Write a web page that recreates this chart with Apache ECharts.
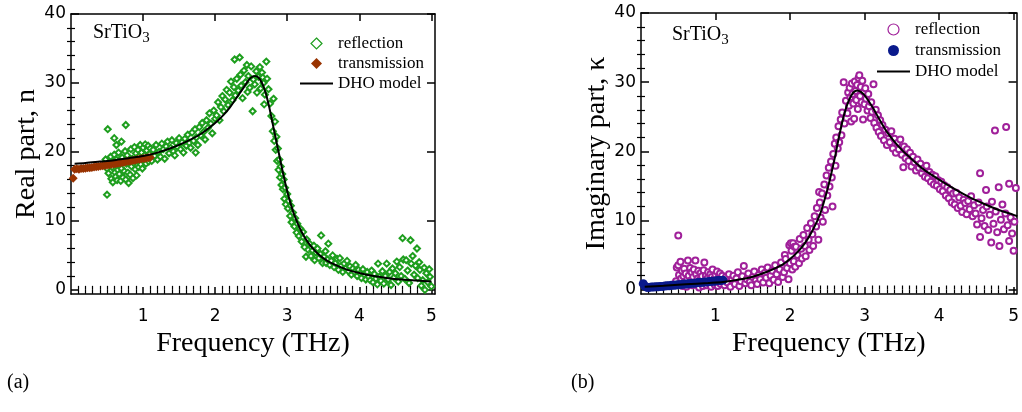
<!DOCTYPE html>
<html>
<head>
<meta charset="utf-8">
<script src="https://cdn.jsdelivr.net/npm/echarts@6/dist/echarts.min.js"></script>
<style>
html,body{margin:0;padding:0;background:#fff;}
#chart{width:1022px;height:412px;}
</style>
</head>
<body>
<div id="chart"></div>
<script>
// ---------------- data ----------------
const xTickLabels = [1, 2, 3, 4, 5];
const yTickLabels = [0, 10, 20, 30, 40];

// panel (a): real part n
const reflectionN = [
[0.50,13.8],[0.51,23.3],[0.60,22.0],[0.63,21.0],[0.70,21.5],[0.76,23.9],
[0.48,18.9],[0.50,17.6],[0.52,16.9],[0.53,18.2],[0.55,19.3],[0.56,16.1],[0.57,17.8],[0.58,15.6],[0.59,18.5],[0.60,19.6],[0.61,17.0],[0.62,16.4],[0.63,18.9],[0.64,15.9],[0.65,17.4],[0.66,19.9],[0.67,16.8],[0.68,18.1],[0.69,15.8],[0.70,17.6],[0.71,19.2],[0.72,16.3],[0.73,18.6],[0.74,17.2],[0.75,20.1],[0.76,16.0],[0.77,18.3],[0.78,19.5],[0.79,17.0],[0.80,15.5],[0.81,18.8],[0.82,16.7],[0.83,20.4],[0.84,17.9],[0.85,19.0],[0.86,16.2],[0.87,18.4],[0.88,20.7],[0.89,17.5],[0.90,19.8],[0.91,16.6],[0.92,18.9],[0.93,20.3],[0.94,17.8],[0.95,19.4],[0.96,21.0],[0.97,18.2],[0.98,19.9],[0.99,17.6],[1.00,20.6],[1.01,18.8],[1.02,19.5],[1.03,21.1],[1.04,18.3],[1.05,20.2],[1.06,19.0],[1.07,20.9],[1.08,18.6],[1.09,19.7],[1.10,20.5],
[1.12,18.7],[1.14,20.3],[1.16,19.4],[1.18,21.0],[1.20,18.9],[1.22,20.0],[1.24,19.3],[1.26,21.2],[1.28,20.4],[1.30,19.0],[1.32,20.8],[1.34,21.5],[1.36,19.8],[1.38,20.6],[1.40,21.7],[1.42,20.1],[1.44,19.5],[1.46,21.3],[1.48,20.7],[1.50,22.0],[1.52,20.4],[1.54,21.4],[1.56,19.9],[1.58,21.9],[1.60,20.9],[1.62,22.5],[1.64,21.3],[1.66,20.6],[1.68,22.8],[1.70,21.6],[1.72,23.3],[1.73,19.9],[1.74,22.1],[1.76,21.0],[1.78,23.6],[1.80,22.4],[1.82,24.2],[1.84,22.9],[1.86,21.8],[1.88,24.6],[1.90,23.5],[1.92,25.6],[1.94,24.1],[1.96,22.7],[1.98,26.0],[2.00,24.8],
[2.02,25.3],[2.04,27.2],[2.06,24.6],[2.08,26.5],[2.10,28.1],[2.12,25.9],[2.14,27.6],[2.16,29.0],[2.18,26.8],[2.20,28.6],[2.22,30.2],[2.24,27.5],[2.26,29.4],[2.27,33.4],[2.28,28.2],[2.30,30.6],[2.32,28.9],[2.34,33.7],[2.35,31.2],[2.36,29.6],[2.38,27.8],[2.40,31.8],[2.42,30.1],[2.44,32.6],[2.45,28.7],[2.46,31.0],[2.48,29.3],[2.50,32.4],[2.52,25.9],[2.53,30.5],[2.55,29.8],[2.57,31.7],[2.58,28.6],[2.60,30.9],[2.62,32.3],[2.63,29.2],[2.65,31.5],[2.66,30.8],[2.67,30.0],[2.68,26.9],[2.69,28.3],[2.71,33.1],[2.72,30.6],[2.74,29.1],
[2.76,27.0],[2.78,25.2],[2.80,23.0],[2.81,27.7],[2.82,21.6],[2.83,24.4],[2.84,20.3],[2.85,22.2],[2.86,18.7],[2.87,20.5],[2.88,17.4],[2.89,18.9],[2.90,16.3],[2.91,17.9],[2.92,15.2],[2.93,16.8],[2.94,14.6],[2.95,16.0],[2.96,13.2],[2.97,14.8],[2.98,12.4],[3.00,13.9],[3.01,11.8],[3.02,12.9],[3.04,10.7],[3.05,12.2],[3.06,9.8],[3.08,11.2],[3.10,9.2],[3.11,10.4],[3.13,8.3],[3.14,9.6],[3.16,7.8],[3.18,8.9],[3.20,7.0],[3.22,8.4],[3.24,6.2],[3.26,4.8],[3.27,7.3],[3.29,5.8],
[3.31,6.7],[3.33,4.9],[3.35,5.7],[3.37,6.4],[3.38,4.3],[3.40,5.4],[3.42,6.0],[3.44,4.6],[3.46,5.2],[3.47,7.9],[3.49,3.9],[3.51,4.8],[3.53,5.6],[3.54,3.9],[3.56,4.4],[3.57,6.7],[3.59,3.6],[3.61,4.2],[3.63,5.0],[3.65,3.3],[3.67,3.9],[3.69,4.5],[3.71,2.9],[3.73,4.6],[3.75,3.5],[3.77,2.6],[3.79,3.8],[3.81,3.1],[3.83,4.2],[3.85,2.7],[3.87,3.4],[3.89,2.2],[3.91,3.1],[3.93,2.6],[3.95,3.6],[3.97,2.0],[3.99,2.9],[4.01,2.4],[4.03,1.7],[4.05,3.0],[4.07,2.2],[4.09,1.5],[4.11,2.6],[4.13,1.9],[4.15,1.4],[4.17,2.8],[4.19,1.1],[4.21,2.3],[4.23,1.6],[4.25,0.8],[4.26,3.8],[4.28,1.9],[4.30,1.3],[4.32,2.7],[4.34,0.9],[4.36,2.0],[4.38,3.8],[4.40,1.5],[4.42,2.6],[4.44,0.7],[4.46,3.1],[4.48,1.8],[4.50,2.4],[4.52,4.1],[4.54,1.2],[4.56,3.3],[4.58,2.0],[4.60,7.5],[4.61,4.4],[4.63,1.6],[4.65,4.3],[4.67,2.8],[4.69,1.0],[4.71,7.2],[4.72,3.8],[4.74,4.9],[4.76,2.2],[4.78,3.5],[4.80,6.0],[4.81,1.7],[4.83,4.0],[4.84,2.9],[4.86,0.6],[4.88,1.4],[4.90,3.2],[4.91,0.0],[4.93,2.4],[4.95,1.1],[4.97,3.0],[4.98,1.9],[5.00,0.5]
];
const transmissionN = [
[0.03,16.2],[0.05,17.5],[0.08,17.55],[0.11,17.5],[0.14,17.6],[0.17,17.6],[0.20,17.65],[0.23,17.7],[0.26,17.7],[0.29,17.75],[0.32,17.8],[0.35,17.85],[0.38,17.9],[0.41,17.95],[0.44,18.0],[0.47,18.05],[0.50,18.1],[0.53,18.15],[0.56,18.2],[0.59,18.25],[0.62,18.3],[0.65,18.35],[0.68,18.4],[0.71,18.45],[0.74,18.5],[0.77,18.6],[0.80,18.65],[0.83,18.7],[0.86,18.75],[0.89,18.8],[0.92,18.9],[0.95,18.95],[0.98,19.0],[1.01,19.05],[1.04,19.1],[1.07,19.15],[1.10,19.2]
];
const dhoN = [
[0.05,18.3],[0.2,18.4],[0.4,18.6],[0.6,18.8],[0.8,19.1],[1.0,19.4],[1.2,19.9],[1.4,20.6],[1.6,21.5],[1.8,22.6],[2.0,24.2],[2.1,25.2],[2.2,26.4],[2.3,27.9],[2.4,29.4],[2.45,30.2],[2.5,30.8],[2.55,31.0],[2.6,30.8],[2.65,30.0],[2.7,28.6],[2.75,26.5],[2.8,24.0],[2.85,21.5],[2.9,19.0],[2.95,16.5],[3.0,14.3],[3.05,12.4],[3.1,10.8],[3.2,8.4],[3.3,6.7],[3.4,5.5],[3.5,4.6],[3.6,3.95],[3.8,3.05],[4.0,2.45],[4.2,2.0],[4.4,1.7],[4.6,1.5],[4.8,1.35],[5.0,1.2]
];

// panel (b): imaginary part kappa
const reflectionK = [
[0.47,1.2],[0.48,3.2],[0.50,3.5],[0.50,7.8],[0.51,2.1],[0.52,0.8],[0.53,4.0],[0.54,1.6],[0.55,2.7],[0.56,0.5],[0.57,1.9],[0.58,3.0],[0.59,1.1],[0.60,2.3],[0.61,0.4],[0.62,1.5],[0.63,4.2],[0.64,2.0],[0.65,0.9],[0.66,3.1],[0.67,1.3],[0.68,2.5],[0.69,0.6],[0.70,1.8],[0.71,2.9],[0.72,1.0],[0.73,4.2],[0.74,2.2],[0.75,0.7],[0.76,1.6],[0.77,2.7],[0.78,0.3],[0.79,1.4],[0.80,2.4],[0.81,0.9],[0.82,1.9],[0.83,0.5],[0.84,2.8],[0.85,3.9],[0.86,1.2],[0.87,2.0],[0.88,0.6],[0.89,1.6],[0.90,2.5],[0.91,0.9],[0.92,1.3],[0.93,2.2],[0.94,0.4],[0.95,1.8],[0.96,2.9],[0.97,1.0],[0.98,1.5],[0.99,0.7],[1.00,2.1],[1.01,1.2],[1.02,2.6],[1.03,0.5],[1.04,1.7],[1.05,1.0],[1.06,2.3],[1.07,0.8],[1.08,1.5],[1.09,2.0],[1.10,1.1],
[1.12,0.6],[1.14,1.8],[1.16,1.0],[1.18,2.2],[1.20,0.4],[1.22,1.4],[1.24,2.0],[1.26,0.8],[1.28,1.6],[1.30,2.5],[1.32,0.5],[1.34,1.2],[1.36,1.9],[1.38,3.4],[1.40,0.9],[1.42,1.5],[1.44,2.3],[1.46,1.1],[1.48,0.6],[1.50,1.8],[1.52,2.6],[1.54,1.3],[1.56,0.8],[1.58,2.1],[1.60,1.5],[1.62,2.9],[1.64,1.0],[1.66,2.4],[1.68,1.7],[1.70,3.2],[1.72,0.9],[1.74,2.0],[1.76,2.7],[1.78,1.4],[1.80,3.5],[1.82,2.2],[1.84,1.1],[1.86,2.9],[1.88,3.9],[1.90,1.8],[1.92,2.5],[1.93,5.0],[1.94,4.4],[1.96,3.1],[1.98,1.5],[1.99,6.4],[2.00,3.8],[2.01,6.7],
[2.02,5.6],[2.03,2.9],[2.04,6.7],[2.05,4.1],[2.06,6.2],[2.07,3.3],[2.08,6.2],[2.10,5.0],[2.12,3.8],[2.13,7.3],[2.15,5.9],[2.16,4.5],[2.18,7.9],[2.20,6.3],[2.21,4.8],[2.23,8.9],[2.25,7.2],[2.26,5.7],[2.28,9.6],[2.30,8.0],[2.31,6.3],[2.33,10.6],[2.35,9.1],[2.36,11.8],[2.38,7.2],[2.39,14.1],[2.40,12.6],[2.41,10.4],[2.43,13.9],[2.44,9.8],[2.46,15.2],[2.47,11.5],[2.49,16.5],[2.50,13.6],[2.52,17.6],[2.53,14.9],[2.55,18.5],[2.56,16.2],[2.57,12.0],[2.58,19.6],[2.60,21.1],[2.61,17.9],[2.62,22.0],[2.64,20.4],[2.65,23.6],[2.66,21.3],[2.68,24.6],[2.69,22.3],[2.70,25.6],[2.72,30.0],[2.73,24.0],[2.75,27.3],[2.77,25.5],
[2.78,28.5],[2.79,26.6],[2.80,29.2],[2.81,27.8],[2.82,24.3],[2.83,29.8],[2.84,28.3],[2.85,26.9],[2.86,24.7],[2.87,30.1],[2.88,28.7],[2.89,27.4],[2.90,29.6],[2.91,26.1],[2.92,30.6],[2.93,31.0],[2.94,28.0],[2.95,29.3],[2.96,27.1],[2.97,30.2],[2.98,24.6],[2.99,28.6],[3.00,26.8],[3.01,29.1],[3.02,27.6],[3.04,25.9],[3.05,28.3],[3.06,26.5],[3.08,24.8],[3.09,27.1],[3.10,25.7],[3.12,29.7],[3.13,24.1],[3.15,26.0],[3.16,23.4],[3.18,25.2],[3.19,22.8],[3.21,24.5],
[3.22,22.2],[3.24,23.8],[3.26,21.6],[3.28,23.1],[3.30,20.9],[3.32,22.6],[3.34,21.3],[3.36,22.9],[3.38,20.4],[3.40,21.8],[3.42,19.8],[3.44,21.2],[3.46,20.3],[3.48,21.7],[3.50,19.5],[3.52,17.7],[3.53,20.7],[3.55,19.0],[3.57,20.3],[3.59,18.6],[3.61,19.8],[3.63,17.8],[3.65,19.2],[3.67,18.4],[3.69,17.2],[3.71,18.8],[3.73,17.6],[3.75,18.2],[3.77,16.8],[3.79,17.5],[3.81,16.3],[3.83,17.9],[3.85,16.1],[3.87,17.0],[3.89,15.6],[3.91,16.6],[3.93,15.2],[3.95,16.4],[3.97,15.0],[3.99,15.8],[4.01,14.5],[4.03,15.6],[4.05,14.2],[4.07,15.1],[4.09,13.6],[4.11,14.8],[4.13,13.2],[4.15,14.4],[4.17,12.6],[4.19,13.9],[4.21,12.3],[4.23,14.0],[4.25,11.8],[4.27,13.3],[4.29,12.1],[4.31,11.2],[4.33,13.0],[4.35,12.5],[4.37,10.9],[4.39,12.8],[4.41,11.6],[4.43,13.5],[4.45,10.6],[4.47,12.2],[4.49,11.0],[4.51,9.4],[4.53,12.6],[4.55,16.8],[4.55,7.6],[4.57,10.3],[4.59,11.5],[4.61,9.2],[4.63,14.4],[4.64,12.0],[4.66,8.6],[4.68,10.8],[4.70,6.8],[4.71,12.7],[4.73,9.5],[4.75,23.0],[4.76,11.3],[4.78,8.3],[4.80,14.8],[4.81,6.3],[4.83,10.1],[4.85,12.3],[4.87,8.7],[4.89,11.0],[4.90,23.5],[4.92,9.3],[4.94,15.3],[4.94,7.0],[4.96,10.4],[4.98,8.1],[5.00,5.6],[5.01,9.8],[5.03,14.7]
];
const transmissionK = [
[0.03,0.85],[0.05,0.5],[0.08,0.3],[0.11,0.3],[0.14,0.35],[0.17,0.35],[0.20,0.4],[0.23,0.4],[0.26,0.45],[0.29,0.45],[0.32,0.5],[0.35,0.55],[0.38,0.55],[0.41,0.6],[0.44,0.6],[0.47,0.65],[0.50,0.7],[0.53,0.7],[0.56,0.75],[0.59,0.8],[0.62,0.8],[0.65,0.85],[0.68,0.9],[0.71,0.9],[0.74,0.95],[0.77,1.0],[0.80,1.0],[0.83,1.05],[0.86,1.1],[0.89,1.1],[0.92,1.15],[0.95,1.2],[0.98,1.2],[1.01,1.25],[1.04,1.3],[1.07,1.3],[1.10,1.35]
];
const dhoK = [
[0.05,0.4],[0.3,0.55],[0.6,0.75],[0.9,0.95],[1.1,1.1],[1.3,1.4],[1.5,1.85],[1.7,2.6],[1.9,3.6],[2.0,4.4],[2.1,5.4],[2.2,6.7],[2.3,8.5],[2.4,10.8],[2.45,12.5],[2.5,14.4],[2.55,16.6],[2.6,19.0],[2.65,21.7],[2.7,24.2],[2.75,26.2],[2.8,27.6],[2.85,28.5],[2.9,28.8],[2.95,28.6],[3.0,28.1],[3.1,26.5],[3.2,24.6],[3.3,22.8],[3.4,21.4],[3.5,20.2],[3.6,19.2],[3.7,18.2],[3.8,17.3],[4.0,15.9],[4.2,14.6],[4.4,13.4],[4.6,12.4],[4.8,11.5],[5.0,10.8],[5.05,10.6]
];

// ---------------- styling helpers ----------------
const BLACK = '#000';
const GREEN = '#1e9e1e', BROWN = '#993300', MAGENTA = '#a0209a', NAVY = '#0a1a8c';
const tickFont = 'DejaVu Sans';
const serif = 'Liberation Serif';
const xMinor = [], yMinor = [];
for (let i = 1; i <= 50; i++) if (i % 10) xMinor.push(i / 10);
for (let i = 2; i < 40; i += 2) if (i % 10) yMinor.push(i);

function xAxesFor(g, max) {
  const base = {type: 'value', gridIndex: g, min: 0, max: max, splitLine: {show: false}};
  const line = {show: true, onZero: false, lineStyle: {color: BLACK, width: 1.5}};
  return [
    Object.assign({}, base, {position: 'bottom', axisLine: line,
      axisTick: {show: true, inside: true, length: 7, customValues: xTickLabels, lineStyle: {color: BLACK, width: 1.5}},
      axisLabel: {show: true, customValues: xTickLabels, margin: 14, fontFamily: tickFont, fontSize: 17, color: BLACK},
      name: 'Frequency (THz)', nameLocation: 'middle', nameGap: 36,
      nameTextStyle: {fontFamily: serif, fontSize: 28, color: BLACK}}),
    Object.assign({}, base, {position: 'bottom', axisLine: {show: false},
      axisTick: {show: true, inside: true, length: 4, customValues: xMinor, lineStyle: {color: BLACK, width: 1.2}},
      axisLabel: {show: false}}),
    Object.assign({}, base, {position: 'top', axisLine: line,
      axisTick: {show: true, inside: true, length: 7, customValues: xTickLabels, lineStyle: {color: BLACK, width: 1.5}},
      axisLabel: {show: false}}),
    Object.assign({}, base, {position: 'top', axisLine: {show: false},
      axisTick: {show: true, inside: true, length: 4, customValues: xMinor, lineStyle: {color: BLACK, width: 1.2}},
      axisLabel: {show: false}})
  ];
}
function yAxesFor(g, min, title, gap) {
  const base = {type: 'value', gridIndex: g, min: min, max: 40, splitLine: {show: false}};
  const line = {show: true, onZero: false, lineStyle: {color: BLACK, width: 1.5}};
  return [
    Object.assign({}, base, {position: 'left', axisLine: line,
      axisTick: {show: true, inside: true, length: 8, customValues: yTickLabels, lineStyle: {color: BLACK, width: 1.5}},
      axisLabel: {show: true, customValues: yTickLabels, margin: 5, fontFamily: tickFont, fontSize: 17, color: BLACK},
      name: title, nameLocation: 'middle', nameGap: gap,
      nameTextStyle: {fontFamily: serif, fontSize: 28, color: BLACK}}),
    Object.assign({}, base, {position: 'left', axisLine: {show: false},
      axisTick: {show: true, inside: true, length: 4, customValues: yMinor, lineStyle: {color: BLACK, width: 1.2}},
      axisLabel: {show: false}}),
    Object.assign({}, base, {position: 'right', axisLine: line,
      axisTick: {show: true, inside: true, length: 8, customValues: yTickLabels, lineStyle: {color: BLACK, width: 1.5}},
      axisLabel: {show: false}}),
    Object.assign({}, base, {position: 'right', axisLine: {show: false},
      axisTick: {show: true, inside: true, length: 4, customValues: yMinor, lineStyle: {color: BLACK, width: 1.2}},
      axisLabel: {show: false}})
  ];
}
const legendText = {fontFamily: serif, fontSize: 17, lineHeight: 17, color: BLACK};
const DIAMOND = 'path://M5,0 L10,5 L5,10 L0,5 Z';
const CIRCLE = 'path://M10,5 A5,5 0 1,1 0,5 A5,5 0 1,1 10,5 Z';
const LINE = 'path://M0,0 L33,0 L33,2 L0,2 Z';
const srTiO3 = (left, top) => ({
  text: '{m|SrTiO}{s|3}', left: left, top: top, padding: 0,
  textStyle: {fontWeight: 'normal', rich: {
    m: {fontFamily: serif, fontSize: 20, fontWeight: 'normal', lineHeight: 26, color: BLACK, verticalAlign: 'middle'},
    s: {fontFamily: serif, fontSize: 15, fontWeight: 'normal', lineHeight: 12, color: BLACK, verticalAlign: 'bottom'}
  }}
});

const option = {
  animation: false,
  backgroundColor: '#fff',
  title: [
    srTiO3(93, 20),
    srTiO3(672, 22),
    {text: '(a)', left: 7, top: 373, padding: 0, textStyle: {fontFamily: serif, fontSize: 20, fontWeight: 'normal', color: BLACK}},
    {text: '(b)', left: 571, top: 373, padding: 0, textStyle: {fontFamily: serif, fontSize: 20, fontWeight: 'normal', color: BLACK}}
  ],
  grid: [
    {left: 71, right: 1022 - 435, top: 14, bottom: 118},
    {left: 641, right: 2, top: 13, bottom: 118}
  ],
  xAxis: xAxesFor(0, 5.05).concat(xAxesFor(1, 5.04)),
  yAxis: yAxesFor(0, -0.6, 'Real part, n', 29).concat(yAxesFor(1, -0.65, 'Imaginary part, \u03ba', 29)),
  legend: [
    {orient: 'vertical', left: 300, top: 35, padding: 0, itemWidth: 33, itemHeight: 11, itemGap: 3,
     symbolKeepAspect: true, selectedMode: false, textStyle: legendText,
     data: [
       {name: 'reflection', icon: DIAMOND, itemStyle: {color: '#fff', borderColor: GREEN, borderWidth: 1.2}},
       {name: 'transmission', icon: DIAMOND, itemStyle: {color: BROWN, borderWidth: 0}},
       {name: 'DHO model', icon: LINE, itemStyle: {color: BLACK, borderWidth: 0}}
     ]},
    {orient: 'vertical', left: 877, top: 21, padding: 0, itemWidth: 33, itemHeight: 11, itemGap: 4,
     symbolKeepAspect: true, selectedMode: false, textStyle: legendText,
     data: [
       {name: 'reflection ', icon: CIRCLE, itemStyle: {color: '#fff', borderColor: MAGENTA, borderWidth: 1.2}},
       {name: 'transmission ', icon: CIRCLE, itemStyle: {color: NAVY, borderWidth: 0}},
       {name: 'DHO model ', icon: LINE, itemStyle: {color: BLACK, borderWidth: 0}}
     ]}
  ],
  series: [
    {name: 'reflection', type: 'scatter', xAxisIndex: 0, yAxisIndex: 0, data: reflectionN,
     symbol: 'emptyDiamond', symbolSize: 6, itemStyle: {color: GREEN, borderColor: GREEN, borderWidth: 1.2, opacity: 1}},
    {name: 'transmission', type: 'scatter', xAxisIndex: 0, yAxisIndex: 0, data: transmissionN,
     symbol: 'diamond', symbolSize: 9, itemStyle: {color: BROWN, opacity: 1}},
    {name: 'DHO model', type: 'line', xAxisIndex: 0, yAxisIndex: 0, data: dhoN, symbol: 'none', smooth: 0.3,
     lineStyle: {color: BLACK, width: 2}, itemStyle: {color: BLACK}, z: 5},
    {name: 'reflection ', type: 'scatter', xAxisIndex: 4, yAxisIndex: 4, data: reflectionK,
     symbol: 'emptyCircle', symbolSize: 6, itemStyle: {color: MAGENTA, borderColor: MAGENTA, borderWidth: 1.2, opacity: 1}},
    {name: 'transmission ', type: 'scatter', xAxisIndex: 4, yAxisIndex: 4, data: transmissionK,
     symbol: 'circle', symbolSize: 9, itemStyle: {color: NAVY, opacity: 1}},
    {name: 'DHO model ', type: 'line', xAxisIndex: 4, yAxisIndex: 4, data: dhoK, symbol: 'none', smooth: 0.3,
     lineStyle: {color: BLACK, width: 2}, itemStyle: {color: BLACK}, z: 5}
  ]
};
const chart = echarts.init(document.getElementById('chart'), null, {renderer: 'canvas'});
chart.setOption(option);
</script>
</body>
</html>
